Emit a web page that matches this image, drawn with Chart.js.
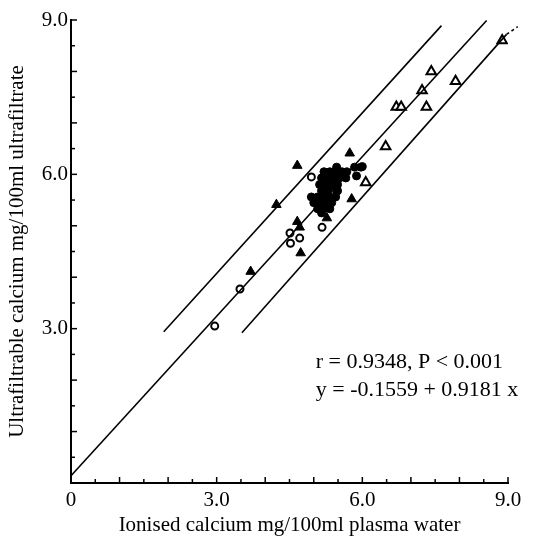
<!DOCTYPE html>
<html>
<head>
<meta charset="utf-8">
<script src="https://cdn.jsdelivr.net/npm/chart.js@4.4.0/dist/chart.umd.min.js"></script>
<style>
  body { margin: 0; background: #fff; }
  #wrap { width: 541px; height: 542px; }
</style>
</head>
<body>
<div id="wrap"><canvas id="myChart"></canvas></div>
<script>
// values (mg/100ml)
const filledCircleX = [6.00, 5.47, 5.84, 5.97, 5.88,
  5.21, 5.33, 5.45, 5.58, 5.68,
  5.16, 5.29, 5.41, 5.53, 5.66,
  5.12, 5.25, 5.37, 5.49,
  5.16, 5.29, 5.49,
  4.95, 5.08, 5.21, 5.33, 5.45,
  5.00, 5.12, 5.25, 5.37,
  5.08, 5.21, 5.33,
  5.16];
const filledCircleY = [6.15, 6.14, 6.14, 6.14, 5.97,
  6.05, 6.05, 6.05, 6.05, 6.05,
  5.93, 5.93, 5.93, 5.93, 5.93,
  5.80, 5.80, 5.80, 5.80,
  5.68, 5.68, 5.68,
  5.56, 5.56, 5.56, 5.56, 5.56,
  5.45, 5.45, 5.45, 5.45,
  5.33, 5.33, 5.33,
  5.25];

const openCircleX = [4.95, 5.23, 5.47, 5.17, 4.51, 4.71, 4.52, 3.48, 2.96];
const openCircleY = [5.95, 5.84, 5.67, 4.97, 4.86, 4.76, 4.66, 3.77, 3.05];

const filledTriX = [5.74, 4.66, 5.78, 5.27, 4.66, 4.23, 4.71, 4.73, 3.70];
const filledTriY = [6.41, 6.17, 5.52, 5.15, 5.08, 5.41, 4.97, 4.47, 4.11];

const openTriX = [8.88, 7.42, 7.92, 7.23, 7.32, 6.70, 6.80, 6.48, 6.07];
const openTriY = [8.60, 8.00, 7.81, 7.63, 7.31, 7.31, 7.31, 6.54, 5.84];

// fitted line and the two limit lines
const midLineX = [0, 8.56];
const midLineY = [0.14, 8.99];
const upperLineX = [1.91, 7.63];
const upperLineY = [2.94, 8.89];
const lowerLineX = [3.52, 8.97, 9.20];
const lowerLineY = [2.92, 8.72, 8.87];

const xTickLabels = ['0', '3.0', '6.0', '9.0'];
const yTickLabels = ['', '3.0', '6.0', '9.0'];

const statsText = ['r = 0.9348, P < 0.001', 'y = -0.1559 + 0.9181 x'];

function pts(xs, ys) {
  return xs.map((x, i) => ({ x: x, y: ys[i] }));
}

Chart.defaults.font.family = '"Liberation Serif", "DejaVu Serif", serif';
Chart.defaults.color = '#000';

const inwardTicks = {
  id: 'inwardTicks',
  afterDraw(chart) {
    const ctx = chart.ctx;
    const xs = chart.scales.x, ys = chart.scales.y;
    const area = chart.chartArea;
    ctx.save();
    ctx.strokeStyle = '#000';
    ctx.lineWidth = 1.5;
    for (let v = 0.5; v <= 9; v += 0.5) {
      const len = (v % 1 === 0) ? 6 : 4;
      const px = xs.getPixelForValue(v);
      ctx.beginPath();
      ctx.moveTo(px, area.bottom);
      ctx.lineTo(px, area.bottom - len);
      ctx.stroke();
      const py = ys.getPixelForValue(v);
      ctx.beginPath();
      ctx.moveTo(area.left, py);
      ctx.lineTo(area.left + len, py);
      ctx.stroke();
    }
    // stats text
    ctx.fillStyle = '#000';
    ctx.font = '22px "Liberation Serif", serif';
    ctx.textBaseline = 'middle';
    ctx.textAlign = 'left';
    const tx = xs.getPixelForValue(5.04);
    ctx.fillText(statsText[0], tx, ys.getPixelForValue(2.35));
    ctx.fillText(statsText[1], tx, ys.getPixelForValue(1.81));
    ctx.restore();
  }
};

const lineStyle = {
  type: 'line',
  showLine: true,
  borderColor: '#000',
  borderWidth: 1.6,
  pointRadius: 0,
  fill: false,
  clip: false
};

const ctx = document.getElementById('myChart').getContext('2d');
const myChart = new Chart(ctx, {
  type: 'scatter',
  data: {
    datasets: [
      Object.assign({ data: pts(midLineX, midLineY) }, lineStyle),
      Object.assign({ data: pts(upperLineX, upperLineY) }, lineStyle),
      Object.assign({
        data: pts(lowerLineX, lowerLineY),
        segment: { borderDash: c => c.p0DataIndex === 1 ? [3, 3] : undefined }
      }, lineStyle),
      {
        data: pts(filledCircleX, filledCircleY),
        pointStyle: 'circle', pointRadius: 4,
        backgroundColor: '#000', borderColor: '#000', borderWidth: 1
      },
      {
        data: pts(openCircleX, openCircleY),
        pointStyle: 'circle', pointRadius: 3.5,
        backgroundColor: '#fff', borderColor: '#000', borderWidth: 2
      },
      {
        data: pts(filledTriX, filledTriY),
        pointStyle: 'triangle', pointRadius: 5.5,
        backgroundColor: '#000', borderColor: '#000', borderWidth: 1
      },
      {
        data: pts(openTriX, openTriY),
        pointStyle: 'triangle', pointRadius: 5.5,
        backgroundColor: '#fff', borderColor: '#000', borderWidth: 2
      }
    ]
  },
  options: {
    responsive: true,
    maintainAspectRatio: false,
    animation: false,
    layout: { padding: { top: 20, right: 33, left: 0, bottom: 0 } },
    plugins: { legend: { display: false }, tooltip: { enabled: false } },
    scales: {
      x: {
        type: 'linear', min: 0, max: 9,
        afterFit: s => { s.height = 59; },
        grid: { display: false, drawTicks: false },
        border: { display: true, color: '#000', width: 2 },
        ticks: {
          stepSize: 3, padding: 5, font: { size: 21 },
          callback: v => xTickLabels[Math.round(v / 3)]
        },
        title: {
          display: true, text: 'Ionised calcium mg/100ml plasma water',
          font: { size: 21 }, padding: { top: 0, bottom: 4 }
        }
      },
      y: {
        type: 'linear', min: 0, max: 9,
        afterFit: s => { s.width = 71; },
        grid: { display: false, drawTicks: false },
        border: { display: true, color: '#000', width: 2 },
        ticks: {
          stepSize: 3, padding: 3, font: { size: 21 },
          callback: v => yTickLabels[Math.round(v / 3)]
        },
        title: {
          display: true, text: 'Ultrafiltrable calcium mg/100ml ultrafiltrate',
          font: { size: 21 }, padding: { top: 5, bottom: 0 }
        }
      }
    }
  },
  plugins: [inwardTicks]
});
</script>
</body>
</html>
